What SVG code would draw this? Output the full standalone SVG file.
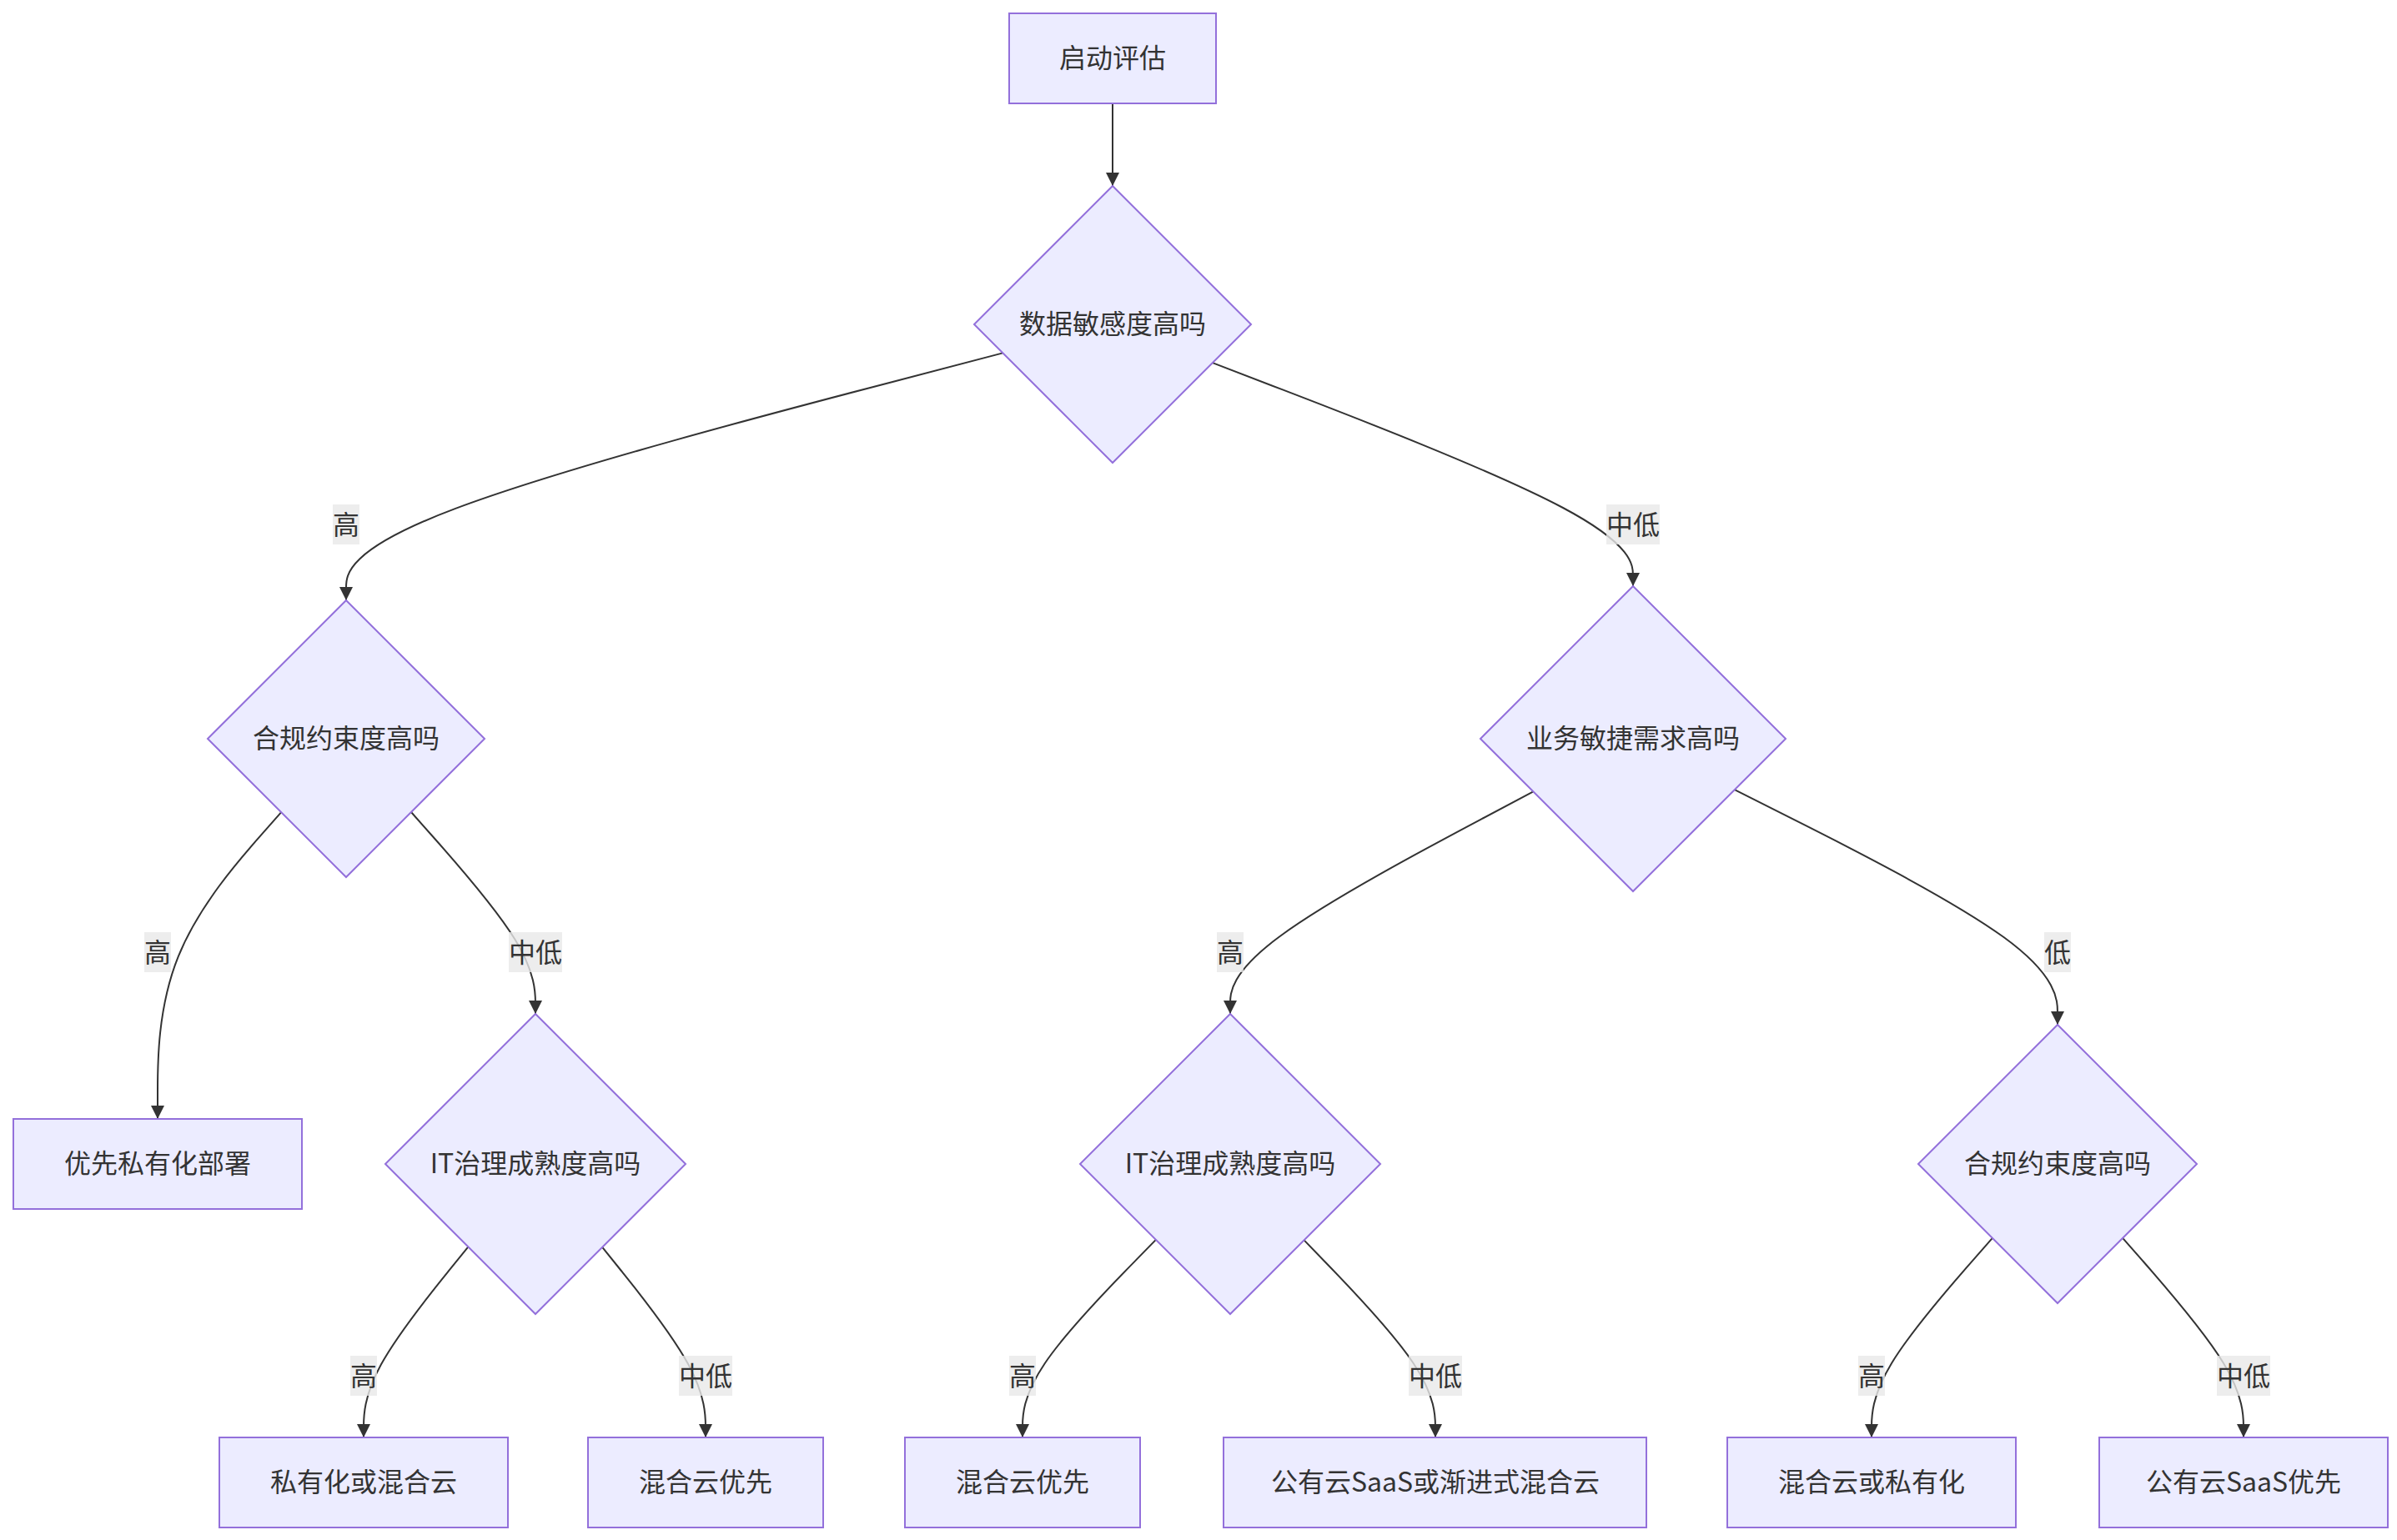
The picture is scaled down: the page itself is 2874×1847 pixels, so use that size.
<svg xmlns="http://www.w3.org/2000/svg" width="2874" height="1847" viewBox="0 0 2874 1847">
<style>
.node rect, .node polygon { fill: #ECECFF; stroke: #9370DB; stroke-width: 2; }
.node text, .elabel text { font-family: "Noto Sans CJK SC", "Liberation Sans", sans-serif; font-size: 32px; fill: #333333; text-anchor: middle; dominant-baseline: central; }
.edges path { fill: none; stroke: #333333; stroke-width: 2; }
.elabel rect { fill: #E8E8E8; fill-opacity: 0.8; }
</style>
<defs>
<marker id="arrow" viewBox="0 0 10 10" refX="10" refY="5" markerUnits="userSpaceOnUse" markerWidth="16" markerHeight="16" orient="auto">
<path d="M0,0 L10,5 L0,10 z" fill="#333333"/>
</marker>
</defs>
<rect width="2874" height="1847" fill="#FFFFFF"/>
<g class="edges">
<path marker-end="url(#arrow)" d="M1334,124 L1334,223"/>
<path marker-end="url(#arrow)" d="M1202.4,423.4 L1071.2,457.7 C939.9,491.9 677.5,560.5 546.2,609.9 C415,659.3 415,689.7 415,704.8 L415,720"/>
<path marker-end="url(#arrow)" d="M1453.9,435.1 L1537.9,467.4 C1621.9,499.7 1790,564.4 1874,609 C1958,653.7 1958,678.3 1958,690.7 L1958,703"/>
<path marker-end="url(#arrow)" d="M337.2,974.2 L312.5,1002.2 C287.8,1030.1 238.4,1086.1 213.7,1147.4 C189,1208.7 189,1275.3 189,1308.7 L189,1342"/>
<path marker-end="url(#arrow)" d="M493,974 L517.8,1002 C542.7,1030 592.3,1086 617.2,1126.3 C642,1166.7 642,1191.3 642,1203.7 L642,1216"/>
<path marker-end="url(#arrow)" d="M1838.4,949.4 L1777.8,981.5 C1717.3,1013.6 1596.1,1077.8 1535.6,1122.2 C1475,1166.7 1475,1191.3 1475,1203.7 L1475,1216"/>
<path marker-end="url(#arrow)" d="M2079.8,947.2 L2144.3,979.7 C2208.9,1012.1 2337.9,1077.1 2402.5,1124 C2467,1171 2467,1200 2467,1214.5 L2467,1229"/>
<path marker-end="url(#arrow)" d="M561.4,1495.4 L540.5,1521.2 C519.6,1546.9 477.8,1598.5 456.9,1636.6 C436,1674.7 436,1699.3 436,1711.7 L436,1724"/>
<path marker-end="url(#arrow)" d="M722.2,1495.8 L742.8,1521.5 C763.5,1547.2 804.7,1598.6 825.4,1636.6 C846,1674.7 846,1699.3 846,1711.7 L846,1724"/>
<path marker-end="url(#arrow)" d="M1385.9,1486.9 L1359.3,1514.1 C1332.6,1541.3 1279.3,1595.6 1252.7,1635.2 C1226,1674.7 1226,1699.3 1226,1711.7 L1226,1724"/>
<path marker-end="url(#arrow)" d="M1563.6,1487.4 L1589.8,1514.5 C1616.1,1541.6 1668.5,1595.8 1694.8,1635.2 C1721,1674.7 1721,1699.3 1721,1711.7 L1721,1724"/>
<path marker-end="url(#arrow)" d="M2388.9,1484.9 L2364.8,1512.4 C2340.6,1539.9 2292.3,1595 2268.2,1634.8 C2244,1674.7 2244,1699.3 2244,1711.7 L2244,1724"/>
<path marker-end="url(#arrow)" d="M2545.1,1484.9 L2569.3,1512.4 C2593.4,1539.9 2641.7,1595 2665.9,1634.8 C2690,1674.7 2690,1699.3 2690,1711.7 L2690,1724"/>
</g>
<g class="edge-labels">
<g class="elabel"><rect x="399" y="605" width="32" height="48"/><text x="415" y="627">高</text></g>
<g class="elabel"><rect x="1926" y="605" width="64" height="48"/><text x="1958" y="627">中低</text></g>
<g class="elabel"><rect x="173" y="1118" width="32" height="48"/><text x="189" y="1140">高</text></g>
<g class="elabel"><rect x="610" y="1118" width="64" height="48"/><text x="642" y="1140">中低</text></g>
<g class="elabel"><rect x="1459" y="1118" width="32" height="48"/><text x="1475" y="1140">高</text></g>
<g class="elabel"><rect x="2451" y="1118" width="32" height="48"/><text x="2467" y="1140">低</text></g>
<g class="elabel"><rect x="420" y="1626" width="32" height="48"/><text x="436" y="1648">高</text></g>
<g class="elabel"><rect x="814" y="1626" width="64" height="48"/><text x="846" y="1648">中低</text></g>
<g class="elabel"><rect x="1210" y="1626" width="32" height="48"/><text x="1226" y="1648">高</text></g>
<g class="elabel"><rect x="1689" y="1626" width="64" height="48"/><text x="1721" y="1648">中低</text></g>
<g class="elabel"><rect x="2228" y="1626" width="32" height="48"/><text x="2244" y="1648">高</text></g>
<g class="elabel"><rect x="2658" y="1626" width="64" height="48"/><text x="2690" y="1648">中低</text></g>
</g>
<g id="A" class="node"><rect x="1210" y="16" width="248" height="108"/><text x="1334" y="67">启动评估</text></g>
<g id="B" class="node"><polygon points="1334,223 1500,389 1334,555 1168,389"/><text x="1334" y="386">数据敏感度高吗</text></g>
<g id="C" class="node"><polygon points="415,720 581,886 415,1052 249,886"/><text x="415" y="883">合规约束度高吗</text></g>
<g id="D" class="node"><polygon points="1958,703 2141,886 1958,1069 1775,886"/><text x="1958" y="883">业务敏捷需求高吗</text></g>
<g id="E" class="node"><rect x="16" y="1342" width="346" height="108"/><text x="189" y="1393">优先私有化部署</text></g>
<g id="F" class="node"><polygon points="642,1216 822,1396 642,1576 462,1396"/><text x="642" y="1393">IT治理成熟度高吗</text></g>
<g id="G" class="node"><polygon points="1475,1216 1655,1396 1475,1576 1295,1396"/><text x="1475" y="1393">IT治理成熟度高吗</text></g>
<g id="H" class="node"><polygon points="2467,1229 2634,1396 2467,1563 2300,1396"/><text x="2467" y="1393">合规约束度高吗</text></g>
<g id="I" class="node"><rect x="263" y="1724" width="346" height="108"/><text x="436" y="1775">私有化或混合云</text></g>
<g id="J" class="node"><rect x="705" y="1724" width="282" height="108"/><text x="846" y="1775">混合云优先</text></g>
<g id="K" class="node"><rect x="1085" y="1724" width="282" height="108"/><text x="1226" y="1775">混合云优先</text></g>
<g id="L" class="node"><rect x="1467" y="1724" width="507" height="108"/><text x="1721" y="1775">公有云SaaS或渐进式混合云</text></g>
<g id="M" class="node"><rect x="2071" y="1724" width="346" height="108"/><text x="2244" y="1775">混合云或私有化</text></g>
<g id="N" class="node"><rect x="2517" y="1724" width="346" height="108"/><text x="2690" y="1775">公有云SaaS优先</text></g>
</svg>
